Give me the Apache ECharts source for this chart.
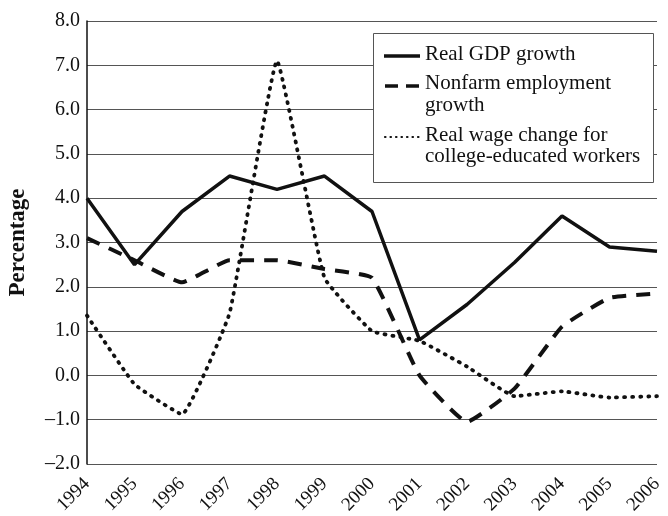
<!DOCTYPE html>
<html>
<head>
<meta charset="utf-8">
<script src="https://cdn.jsdelivr.net/npm/echarts@6/dist/echarts.min.js"></script>
<style>
  html, body { margin: 0; padding: 0; background: #fff; }
  #chart { width: 668px; height: 516px; }
</style>
</head>
<body>
<div id="chart"></div>
<script>
// 年份与三条序列（读图估值）
const years = ["1994", "1995", "1996", "1997", "1998", "1999", "2000",
  "2001", "2002", "2003", "2004", "2005", "2006"];
const gdpGrowth = [4.0, 2.5, 3.7, 4.5, 4.2, 4.5, 3.7, 0.8, 1.6, 2.55, 3.6, 2.9, 2.8];
const employmentGrowth = [3.1, 2.6, 2.1, 2.6, 2.6, 2.4, 2.2, 0.0, -1.05, -0.3, 1.1, 1.75, 1.85];
const wageChange = [1.35, -0.2, -0.88, 1.4, 7.1, 2.2, 1.0, 0.78, 0.2, -0.47, -0.36, -0.5, -0.47];
const seriesNames = ["Real GDP growth", "Nonfarm employment growth",
  "Real wage change for college-educated workers"];

const SERIF = '"Liberation Serif", "DejaVu Serif", serif';

function formatTick(value) {
  return value.toFixed(1).replace("-", "\u2013");
}

/**
 * 图例用 graphic 画，第一行对齐图标，和原图一致。
 */
function createLegendGraphic() {
  const textStyle = { font: "21px " + SERIF, fill: "#111", verticalAlign: "middle" };
  return [
    {
      type: "rect",
      left: 373, top: 33, z: 100,
      shape: { width: 280, height: 149 },
      style: { fill: "#fff", stroke: "#555", lineWidth: 1 },
    },
    {
      type: "line", z: 101,
      shape: { x1: 384, y1: 56, x2: 420, y2: 56 },
      style: { stroke: "#111", lineWidth: 3.5 },
    },
    { type: "text", left: 425, top: 44, z: 101, style: Object.assign({ text: "Real GDP growth" }, textStyle) },
    {
      type: "line", z: 101,
      shape: { x1: 385, y1: 86, x2: 419, y2: 86 },
      style: { stroke: "#111", lineWidth: 3.5, lineDash: [13, 8] },
    },
    { type: "text", left: 425, top: 73, z: 101, style: Object.assign({ text: "Nonfarm employment" }, textStyle) },
    { type: "text", left: 425, top: 95, z: 101, style: Object.assign({ text: "growth" }, textStyle) },
    {
      type: "line", z: 101,
      shape: { x1: 385, y1: 137, x2: 419, y2: 137 },
      style: { stroke: "#111", lineWidth: 2.2, lineDash: [0.5, 5], lineCap: "round" },
    },
    { type: "text", left: 425, top: 125, z: 101, style: Object.assign({ text: "Real wage change for" }, textStyle) },
    { type: "text", left: 425, top: 146, z: 101, style: Object.assign({ text: "college-educated workers" }, textStyle) },
  ];
}

function createChartOption() {
  return {
    animation: false,
    backgroundColor: "#fff",
    grid: { left: 87, right: 11, top: 21, bottom: 52, outerBoundsMode: "none" },
    xAxis: {
      type: "category",
      data: years,
      boundaryGap: false,
      axisLine: { show: false },
      axisTick: { show: false },
      axisLabel: {
        color: "#111",
        fontFamily: SERIF,
        fontSize: 19,
        rotate: 45,
        margin: 17,
        interval: 0,
      },
      splitLine: { show: false },
    },
    yAxis: {
      type: "value",
      min: -2,
      max: 8,
      interval: 1,
      name: "Percentage",
      nameLocation: "middle",
      nameGap: 57,
      nameRotate: 90,
      nameTextStyle: { color: "#111", fontFamily: SERIF, fontSize: 23, fontWeight: "bold" },
      axisLine: { show: true, lineStyle: { color: "#111", width: 1.5 } },
      axisTick: { show: false },
      axisLabel: {
        color: "#111",
        fontFamily: SERIF,
        fontSize: 20,
        margin: 7,
        formatter: formatTick,
      },
      splitLine: { lineStyle: { color: "#555", width: 1.2 } },
    },
    series: [
      {
        name: seriesNames[0],
        type: "line",
        data: gdpGrowth,
        smooth: false,
        showSymbol: false,
        lineStyle: { color: "#111", width: 3.5 },
        z: 3,
      },
      {
        name: seriesNames[1],
        type: "line",
        data: employmentGrowth,
        smooth: 0.12,
        showSymbol: false,
        lineStyle: { color: "#111", width: 4, type: [14, 10] },
        z: 2,
      },
      {
        name: seriesNames[2],
        type: "line",
        data: wageChange,
        smooth: 0.1,
        showSymbol: false,
        lineStyle: { color: "#111", width: 3.8, type: [1, 7], cap: "round" },
        z: 2,
      },
    ],
    graphic: createLegendGraphic(),
  };
}

const chartInstance = echarts.init(document.getElementById("chart"), null, { renderer: "canvas" });
chartInstance.setOption(createChartOption());
</script>
</body>
</html>
